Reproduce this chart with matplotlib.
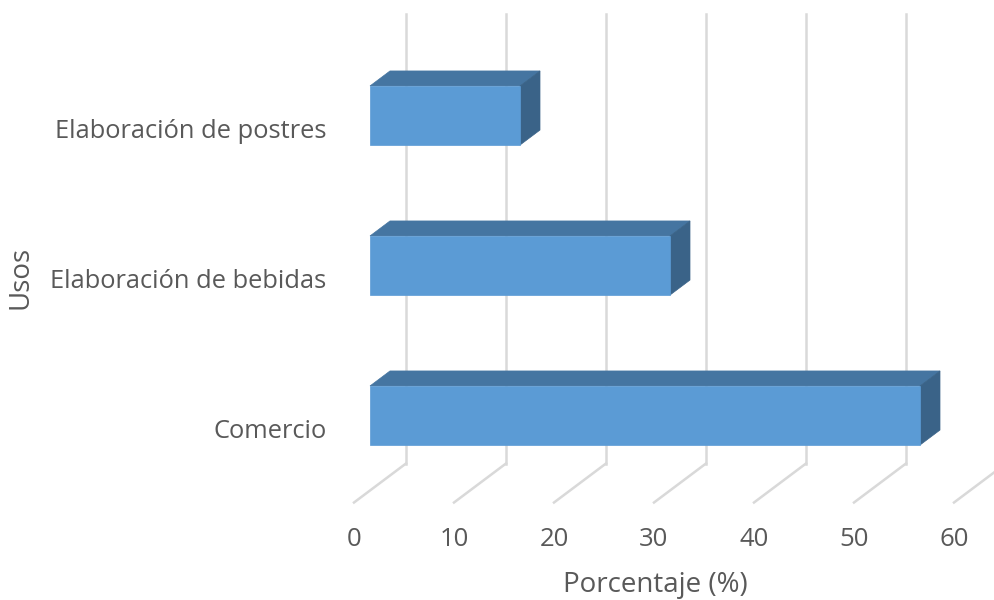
import matplotlib
matplotlib.use("Agg")
import matplotlib.pyplot as plt
from matplotlib.patches import Polygon

# usos y porcentajes
categorias = ["Comercio", "Elaboración de bebidas", "Elaboración de postres"]
porcentajes = [55, 30, 15]
ticks = [0, 10, 20, 30, 40, 50, 60]

plt.rcParams['font.family'] = ['Open Sans', 'DejaVu Sans']
txt_color = '#595959'
grid_color = '#D9D9D9'
col_front = '#5B9BD5'
col_top = '#4575A1'
col_side = '#3A6388'

# pseudo-3D: desplazamiento de profundidad (t de 0 a 1) en unidades de datos
DX, DY = 5.2, 0.26
t0, t1 = 16 / 52, 36 / 52
half = 0.197


def off(x, y, t):
    return (x + DX * t, y + DY * t)


fig = plt.figure(figsize=(9.95, 6.0), dpi=100)
ax = fig.add_axes([0, 0, 1, 1])
ax.set_xlim(-35.4, 64.1)
ax.set_ylim(-1.15, 2.85)
ax.axis('off')

# rejilla: pared del fondo y suelo
for v in ticks:
    x0, y0 = off(v, -0.5, 1)
    _, y1 = off(v, 2.5, 1)
    ax.plot([x0, x0], [y0, y1], color=grid_color, lw=1.8, zorder=1)
    ax.plot([v, x0], [-0.5, y0], color=grid_color, lw=1.8, zorder=1)
    ax.text(v, -0.745, str(v), ha='center', va='center', fontsize=18.5, color=txt_color)

# barras
for i, (cat, val) in enumerate(zip(categorias, porcentajes)):
    yb, yt = i - half, i + half
    front = [off(0, yb, t0), off(val, yb, t0), off(val, yt, t0), off(0, yt, t0)]
    top = [off(0, yt, t0), off(val, yt, t0), off(val, yt, t1), off(0, yt, t1)]
    side = [off(val, yb, t0), off(val, yb, t1), off(val, yt, t1), off(val, yt, t0)]
    ax.add_patch(Polygon(top, closed=True, fc=col_top, ec=col_top, lw=0.5, zorder=3))
    ax.add_patch(Polygon(side, closed=True, fc=col_side, ec=col_side, lw=0.5, zorder=3))
    ax.add_patch(Polygon(front, closed=True, fc=col_front, ec=col_front, lw=0.5, zorder=4))
    ax.text(-2.75, i - 0.03, cat, ha='right', va='center', fontsize=18.4, color=txt_color)

fig.text(21 / 995, 1 - 277 / 600, "Usos", rotation=90, ha='center', va='center',
         fontsize=20, color=txt_color)
fig.text(655 / 995, 1 - 585 / 600, "Porcentaje (%)", ha='center', va='center',
         fontsize=20, color=txt_color)

fig.savefig("out.png", dpi=100, facecolor='white')
